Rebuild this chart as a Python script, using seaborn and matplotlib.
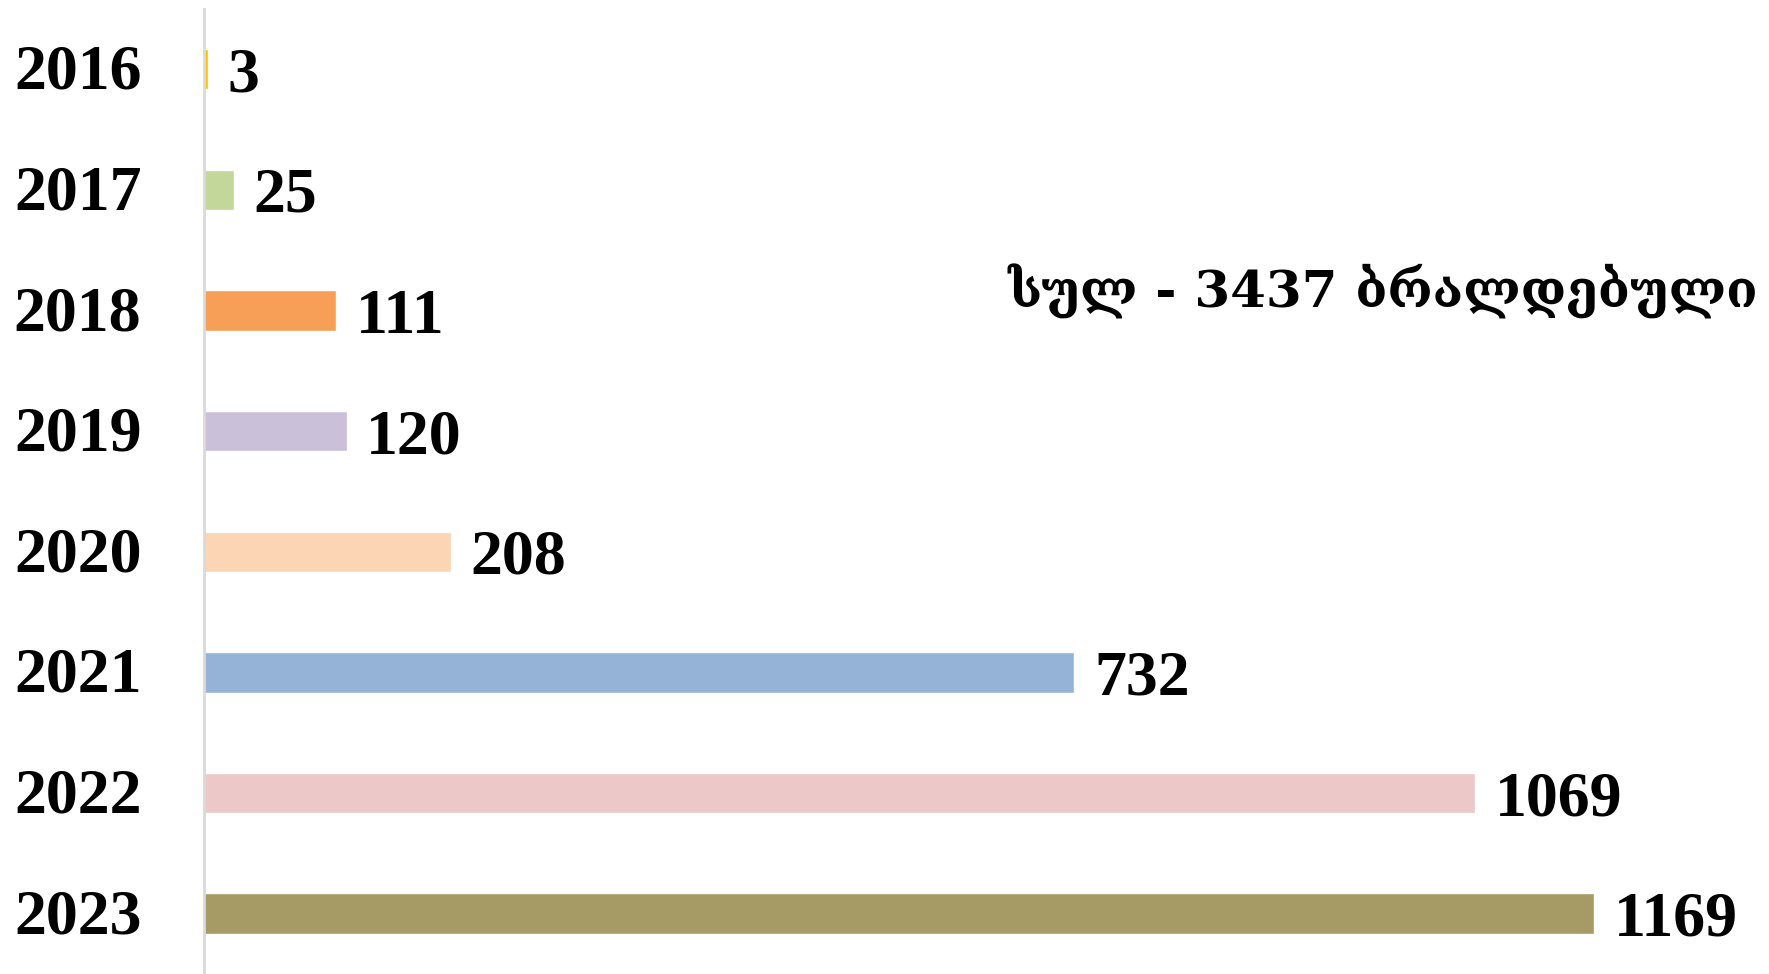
import matplotlib
matplotlib.use("Agg")
from matplotlib import pyplot as plt
from matplotlib.transforms import ScaledTranslation
import pandas as pd
import seaborn as sns

# Data
years = ["2016", "2017", "2018", "2019", "2020", "2021", "2022", "2023"]
counts = [3, 25, 111, 120, 208, 732, 1069, 1169]
bar_colors = ["#FFC000", "#C4D79B", "#F79F56", "#CBC0DA",
              "#FCD5B5", "#95B3D7", "#ECC8C9", "#A69B64"]
total_label = "სულ - 3437 ბრალდებული"

df = pd.DataFrame({"year": years, "count": counts})

sns.set_style("white")
plt.rcParams["font.family"] = ["Liberation Serif", "DejaVu Serif"]
plt.rcParams["text.color"] = "black"
plt.rcParams["ytick.color"] = "black"

fig = plt.figure(figsize=(17.69, 9.74), dpi=100)
ax = fig.add_axes([0.1153, 0.0, 0.8847, 0.9908])

sns.barplot(
    data=df,
    x="count",
    y="year",
    hue="year",
    palette=bar_colors,
    saturation=1,
    order=years,
    orient="h",
    width=0.335,
    legend=False,
    ax=ax,
)

# Value labels at bar ends
for container in ax.containers:
    labels = ax.bar_label(container, padding=14, fontsize=46,
                          fontweight="bold", color="black")
    for t in labels:
        t.set_verticalalignment("center_baseline")

ax.set_xlim(0, 1316)
ax.set_ylim(7.5, -0.5)
ax.set_xlabel("")
ax.set_ylabel("")
ax.set_xticks([])
ax.tick_params(axis="y", length=0, pad=45, labelsize=46, labelcolor="black")
shift = ScaledTranslation(0, -0.045, fig.dpi_scale_trans)
for lbl in ax.get_yticklabels():
    lbl.set_fontweight("bold")
    lbl.set_verticalalignment("center")
    lbl.set_transform(lbl.get_transform() + shift)

for side in ["top", "right", "bottom"]:
    ax.spines[side].set_visible(False)
ax.spines["left"].set_color("#D9D9D9")
ax.spines["left"].set_linewidth(2)

fig.text(1758 / 1769, 1 - 291 / 974, total_label, fontsize=37,
         fontweight="bold", family=["DejaVu Serif"],
         color="black", ha="right", va="center")

fig.savefig("out.png", dpi=100)
